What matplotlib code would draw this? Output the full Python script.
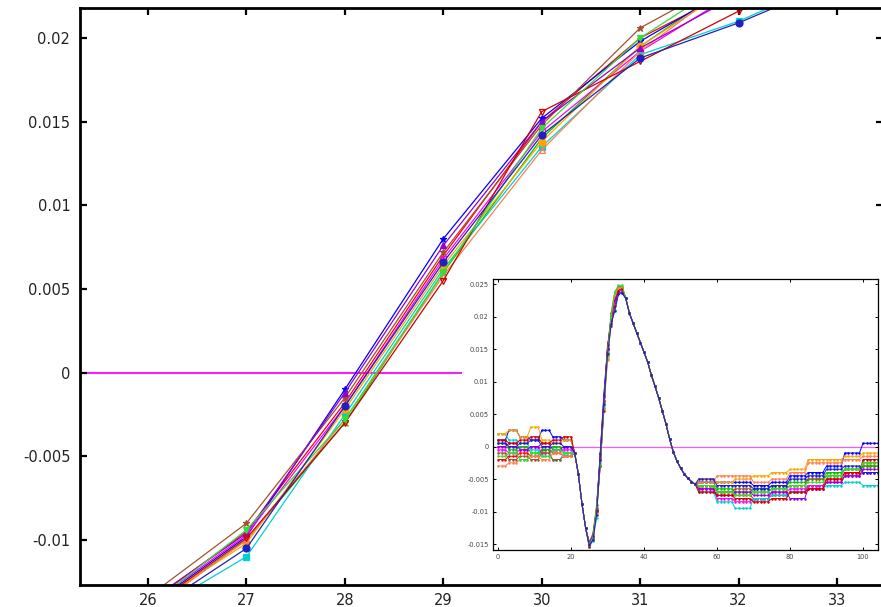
import numpy as np
import matplotlib
matplotlib.use('Agg')
import matplotlib.pyplot as plt
from matplotlib.patches import Rectangle
from matplotlib.ticker import FuncFormatter

# series styles (gnuplot-like)
colors = ['#ff0000', '#00c000', '#0000ff', '#ff00ff', '#00d0d0', '#a0522d',
          '#ffa500', '#ff7f50', '#9400d3', '#d00000', '#30e030', '#2020c0']
markers = ['+', 'x', '*', 's', 's', '*', 'o', '^', '^', 'v', 'v', 'o']
filled = [True, True, True, False, True, True, True, False, True, False, True, True]

# x = 25..34 : the part shown in the big plot
x_main = [25, 26, 27, 28, 29, 30, 31, 32, 33, 34]
main_vals = [
    [-0.0150, -0.0138, -0.0095, -0.0018, 0.0070, 0.0150, 0.0200, 0.0230, 0.0242, 0.0242],
    [-0.0152, -0.0142, -0.0100, -0.0030, 0.0060, 0.0140, 0.0195, 0.0235, 0.0245, 0.0246],
    [-0.0148, -0.0140, -0.0098, -0.0010, 0.0080, 0.0152, 0.0198, 0.0232, 0.0238, 0.0236],
    [-0.0150, -0.0139, -0.0097, -0.0020, 0.0068, 0.0144, 0.0192, 0.0228, 0.0240, 0.0240],
    [-0.0155, -0.0145, -0.0110, -0.0025, 0.0062, 0.0135, 0.0190, 0.0210, 0.0236, 0.0238],
    [-0.0147, -0.0134, -0.0090, -0.0015, 0.0072, 0.0148, 0.0206, 0.0238, 0.0246, 0.0245],
    [-0.0150, -0.0140, -0.0102, -0.0022, 0.0064, 0.0138, 0.0195, 0.0233, 0.0243, 0.0244],
    [-0.0153, -0.0143, -0.0100, -0.0028, 0.0058, 0.0133, 0.0192, 0.0236, 0.0244, 0.0245],
    [-0.0149, -0.0137, -0.0096, -0.0012, 0.0076, 0.0150, 0.0194, 0.0226, 0.0238, 0.0237],
    [-0.0154, -0.0141, -0.0099, -0.0030, 0.0055, 0.0156, 0.0186, 0.0216, 0.0240, 0.0243],
    [-0.0151, -0.0140, -0.0094, -0.0028, 0.0060, 0.0146, 0.0200, 0.0238, 0.0248, 0.0248],
    [-0.0152, -0.0144, -0.0105, -0.0020, 0.0066, 0.0142, 0.0188, 0.0209, 0.0234, 0.0236],
]

# baseline before the pulse, levels held over 3 samples each (x = 0..20)
pre_levels = [
    [-0.0020, -0.0015, -0.0010, -0.0015, -0.0005, -0.0010, -0.0015],
    [0.0005, -0.0005, 0.0000, -0.0010, -0.0005, 0.0000, -0.0010],
    [0.0010, 0.0025, 0.0015, 0.0010, 0.0025, 0.0015, 0.0010],
    [-0.0005, -0.0010, -0.0005, 0.0000, -0.0010, -0.0005, -0.0005],
    [0.0020, 0.0010, 0.0005, -0.0005, -0.0015, -0.0020, -0.0010],
    [-0.0010, -0.0020, -0.0015, -0.0020, -0.0010, -0.0020, -0.0015],
    [0.0020, 0.0025, 0.0015, 0.0030, 0.0010, 0.0005, 0.0010],
    [-0.0030, -0.0025, -0.0020, -0.0015, -0.0020, -0.0010, -0.0015],
    [0.0000, 0.0005, -0.0005, 0.0000, 0.0005, -0.0005, 0.0000],
    [0.0010, 0.0005, 0.0010, 0.0015, 0.0005, 0.0010, 0.0015],
    [-0.0015, -0.0010, -0.0020, -0.0010, -0.0015, -0.0005, -0.0010],
    [0.0005, 0.0000, 0.0005, 0.0010, 0.0000, 0.0005, 0.0000],
]

# common shape of the pulse edges
drop = [-0.0010, -0.0042, -0.0088, -0.0125]              # x = 21..24
fall = [0.0228, 0.0205, 0.0190, 0.0175, 0.0160, 0.0145, 0.0130, 0.0110,
        0.0093, 0.0075, 0.0055, 0.0035, 0.0012, -0.0008, -0.0022, -0.0033,
        -0.0042, -0.0049, -0.0054, -0.0058]               # x = 35..54

# undershoot / recovery, levels held over 5 samples each (x = 55..104)
tail_levels = [
    [-0.0060, -0.0070, -0.0075, -0.0080, -0.0075, -0.0070, -0.0060, -0.0050, -0.0040, -0.0030],
    [-0.0055, -0.0065, -0.0070, -0.0065, -0.0060, -0.0055, -0.0050, -0.0040, -0.0035, -0.0030],
    [-0.0055, -0.0055, -0.0055, -0.0060, -0.0055, -0.0045, -0.0040, -0.0030, -0.0010, 0.0005],
    [-0.0065, -0.0080, -0.0085, -0.0080, -0.0070, -0.0065, -0.0060, -0.0055, -0.0045, -0.0040],
    [-0.0070, -0.0085, -0.0095, -0.0080, -0.0075, -0.0070, -0.0065, -0.0060, -0.0055, -0.0060],
    [-0.0060, -0.0070, -0.0065, -0.0070, -0.0065, -0.0060, -0.0050, -0.0045, -0.0035, -0.0025],
    [-0.0050, -0.0055, -0.0050, -0.0045, -0.0040, -0.0035, -0.0020, -0.0020, -0.0015, -0.0010],
    [-0.0055, -0.0045, -0.0045, -0.0055, -0.0050, -0.0040, -0.0025, -0.0025, -0.0020, -0.0015],
    [-0.0065, -0.0075, -0.0070, -0.0075, -0.0070, -0.0080, -0.0065, -0.0055, -0.0045, -0.0035],
    [-0.0070, -0.0075, -0.0080, -0.0085, -0.0080, -0.0070, -0.0065, -0.0050, -0.0040, -0.0020],
    [-0.0060, -0.0070, -0.0075, -0.0070, -0.0065, -0.0060, -0.0055, -0.0045, -0.0035, -0.0025],
    [-0.0050, -0.0060, -0.0060, -0.0065, -0.0060, -0.0050, -0.0045, -0.0035, -0.0030, -0.0040],
]

main_yticks = [-0.01, -0.005, 0, 0.005, 0.01, 0.015, 0.02]
main_ylabels = ['-0.01', '-0.005', '0', '0.005', '0.01', '0.015', '0.02']
main_xticks = [26, 27, 28, 29, 30, 31, 32, 33]

x_all = np.arange(105)
series = []
for i in range(len(main_vals)):
    y = np.concatenate([np.repeat(pre_levels[i], 3), drop, main_vals[i],
                        fall, np.repeat(tail_levels[i], 5)])
    series.append(y)

fig = plt.figure(figsize=(8.81, 6.07), dpi=100)

# main plot
ax = fig.add_axes([80 / 881, 22 / 607, 803 / 881, 577 / 607])
ax.axhline(0, color='#ff00ff', lw=1.3, zorder=1)
for i, y in enumerate(series):
    ax.plot(x_all, y, color=colors[i], lw=0.9, marker=markers[i], ms=5,
            mew=0.9, mfc=colors[i] if filled[i] else 'none', zorder=2)
ax.set_xlim(25.309, 33.467)
ax.set_ylim(-0.01269, 0.02179)
ax.set_xticks(main_xticks)
ax.set_yticks(main_yticks)
ax.set_yticklabels(main_ylabels)
ax.tick_params(direction='in', top=True, right=True, length=5, width=1.6,
               labelsize=10.5, labelcolor='#222222')
ax.tick_params(axis='y', pad=7)
ax.tick_params(axis='x', pad=6)
for s in ax.spines.values():
    s.set_linewidth(2)

# white area behind the inset
fig.patches.append(Rectangle((462 / 881, 36 / 607), 419 / 881, 307 / 607,
                             transform=fig.transFigure, facecolor='white',
                             edgecolor='none', zorder=0.5))

# inset with the whole trace
ins = fig.add_axes([493 / 881, 57 / 607, 385 / 881, 271 / 607], zorder=1)
ins.axhline(0, color='#ff55ff', lw=0.9, zorder=1)
for i, y in enumerate(series):
    ins.plot(x_all, y, color=colors[i], lw=0.7, marker='o', ms=1.8,
             mew=0, zorder=2)
ins.set_xlim(-1.37, 104.1)
ins.set_ylim(-0.01592, 0.02577)
ins.set_xticks([0, 20, 40, 60, 80, 100])
ins.set_yticks([-0.015, -0.01, -0.005, 0, 0.005, 0.01, 0.015, 0.02, 0.025])
ins.yaxis.set_major_formatter(FuncFormatter(lambda v, p: '0' if abs(v) < 1e-9 else '%g' % v))
ins.tick_params(direction='in', top=True, right=True, length=2.5, width=0.7,
                labelsize=4.8, labelcolor='#444444', pad=3)
for s in ins.spines.values():
    s.set_linewidth(0.9)

fig.savefig('out.png', dpi=100)
